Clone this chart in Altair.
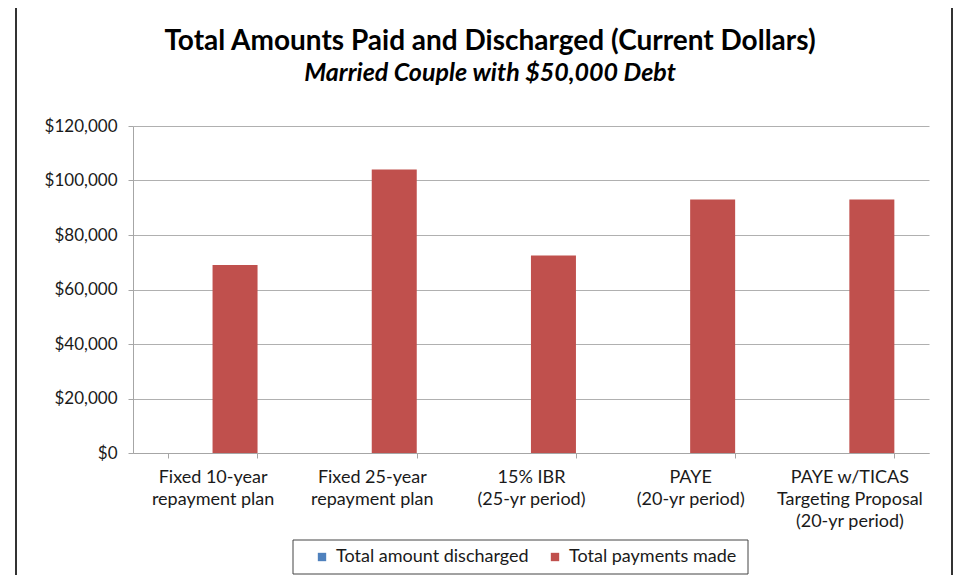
import altair as alt
import pandas as pd

# ---- data ----
title_text = "Total Amounts Paid and Discharged (Current Dollars)"
subtitle_text = "Married Couple with $50,000 Debt"
plans = [
    "Fixed 10-year|repayment plan",
    "Fixed 25-year|repayment plan",
    "15% IBR|(25-yr period)",
    "PAYE|(20-yr period)",
    "PAYE w/TICAS|Targeting Proposal|(20-yr period)",
]
series = ["Total amount discharged", "Total payments made"]
discharged = [0, 0, 0, 0, 0]
payments = [69000, 104000, 72500, 93000, 93000]
y_ticks = [0, 20000, 40000, 60000, 80000, 100000, 120000]
colors = ["#4F81BD", "#C0504D"]

rows = []
for p, d, v in zip(plans, discharged, payments):
    rows.append({"plan": p, "series": series[0], "value": d})
    rows.append({"plan": p, "series": series[1], "value": v})
df = pd.DataFrame(rows)

W, H = 796, 327
FONT = "Lato"

bars = alt.Chart(df).mark_bar(size=45).encode(
    x=alt.X(
        "plan:N",
        sort=plans,
        scale=alt.Scale(paddingInner=0.436, paddingOuter=0.218),
        axis=alt.Axis(
            title=None,
            labelAngle=0,
            labelExpr="split(datum.label, '|')",
            labelFont=FONT,
            labelFontSize=18,
            labelColor="#1a1a1a",
            labelLineHeight=22,
            labelPadding=10,
            labelLimit=300,
            tickBand="extent",
            tickSize=5,
            tickColor="#a6a6a6",
            domainColor="#a6a6a6",
            grid=False,
        ),
    ),
    xOffset=alt.XOffset("series:N", sort=series,
                        scale=alt.Scale(paddingInner=0, paddingOuter=0)),
    y=alt.Y(
        "value:Q",
        scale=alt.Scale(domain=[0, 120000], nice=False),
        axis=alt.Axis(
            title=None,
            values=y_ticks,
            format="$,.0f",
            labelFont=FONT,
            labelFontSize=17,
            labelColor="#1a1a1a",
            labelPadding=11,
            tickSize=5,
            tickColor="#a6a6a6",
            domainColor="#a6a6a6",
            gridColor="#b0b0b0",
            gridWidth=1,
        ),
    ),
    color=alt.Color(
        "series:N",
        scale=alt.Scale(domain=series, range=colors),
        legend=alt.Legend(
            title=None,
            orient="none",
            legendX=180,
            legendY=422,
            direction="horizontal",
            symbolType="square",
            symbolSize=70,
            symbolStrokeWidth=0,
            labelFont=FONT,
            labelFontSize=18,
            labelColor="#1a1a1a",
            labelOffset=5,
            columnPadding=17,
            labelLimit=300,
        ),
    ),
)

one = pd.DataFrame({"a": [0]})
frame = alt.Chart(one).mark_rect(fill=None, stroke="#333333", strokeWidth=2).encode(
    x=alt.value(-117), x2=alt.value(819), y=alt.value(-119), y2=alt.value(480)
)
legend_box = alt.Chart(one).mark_rect(fill=None, stroke="#444444", strokeWidth=1).encode(
    x=alt.value(160), x2=alt.value(615), y=alt.value(414), y2=alt.value(448)
)
title_mark = alt.Chart(one).mark_text(
    font=FONT, fontSize=28, fontWeight="bold", color="black", align="center", baseline="alphabetic"
).encode(x=alt.value(357), y=alt.value(-76), text=alt.value(title_text))
subtitle_mark = alt.Chart(one).mark_text(
    font=FONT, fontSize=25, fontWeight="bold", fontStyle="italic", color="black",
    align="center", baseline="alphabetic"
).encode(x=alt.value(357), y=alt.value(-45), text=alt.value(subtitle_text))

chart = alt.layer(frame, legend_box, title_mark, subtitle_mark, bars).properties(
    width=W,
    height=H,
    autosize=alt.AutoSizeParams(type="none"),
    padding={"left": 125, "top": 118, "right": 24, "bottom": 122},
).configure_view(strokeWidth=0)

chart.save("out.html", embed_options={"renderer": "svg", "actions": False})
